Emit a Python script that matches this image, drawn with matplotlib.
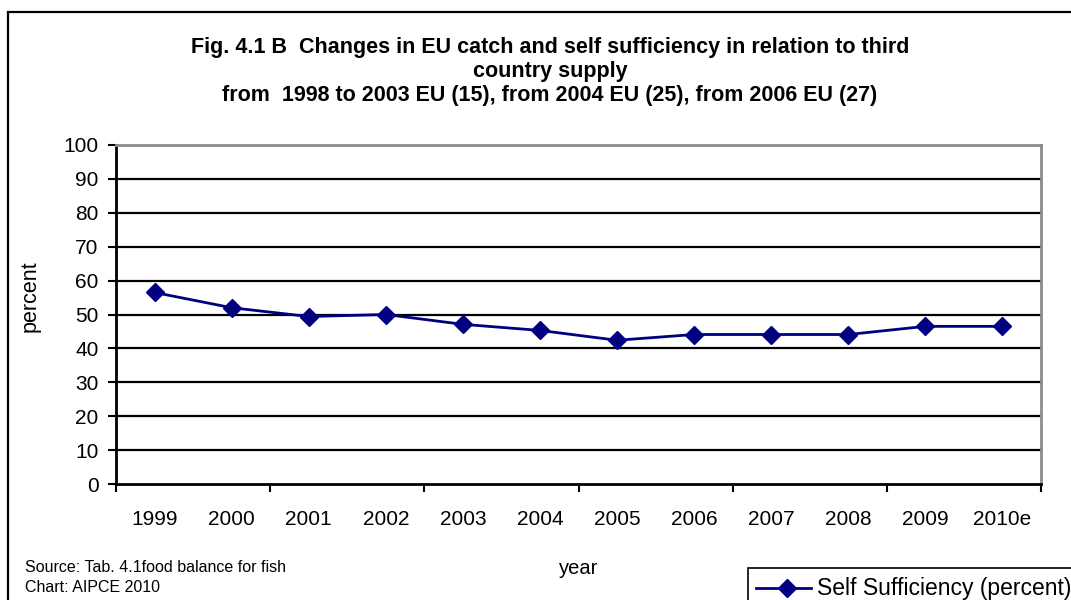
import matplotlib
matplotlib.use("Agg")
import matplotlib.pyplot as plt
from matplotlib.patches import Rectangle
from matplotlib.lines import Line2D

plt.rcParams['font.family'] = ['Liberation Sans', 'DejaVu Sans']

years = ["1999", "2000", "2001", "2002", "2003", "2004",
         "2005", "2006", "2007", "2008", "2009", "2010e"]
self_sufficiency = [56.5, 52.0, 49.4, 50.0, 47.1, 45.3,
                    42.4, 44.1, 44.1, 44.1, 46.5, 46.5]
y_ticks = [0, 10, 20, 30, 40, 50, 60, 70, 80, 90, 100]

W, H = 1071, 600
fig = plt.figure(figsize=(W / 100, H / 100), dpi=100)
fig.patch.set_facecolor("white")

# outer chart frame (runs past the right and bottom edges)
fig.patches.append(Rectangle((7.5 / W, -0.1), 1.2, 1 - 11.5 / H + 0.1,
                             transform=fig.transFigure, fill=False,
                             edgecolor="black", linewidth=1.6))

ax = fig.add_axes([116 / W, 1 - 484 / H, (1041 - 116) / W, (484 - 145) / H])
x = list(range(len(years)))
ax.plot(x, self_sufficiency, color="#000080", linewidth=2.0,
        marker="D", markersize=9, markerfacecolor="#000080",
        markeredgecolor="#000080", zorder=5)

ax.set_xlim(-0.5, len(years) - 0.5)
ax.set_ylim(0, 100)
ax.set_yticks(y_ticks)
ax.set_yticklabels([str(v) for v in y_ticks], fontsize=15)
for v in y_ticks[1:]:
    ax.axhline(v, color="black", linewidth=1.6, zorder=1)

# category boundary ticks every two years, labels at category centres
ax.set_xticks([i - 0.5 for i in range(0, len(years) + 1, 2)])
ax.set_xticklabels([])
ax.set_xticks(x, minor=True)
ax.set_xticklabels(years, minor=True, fontsize=15)
ax.tick_params(axis="x", which="major", direction="out", length=6,
               width=1.5, color="black")
ax.tick_params(axis="x", which="minor", length=0, pad=19)
ax.tick_params(axis="y", direction="out", length=5.5, width=1.5,
               pad=7, color="black")

for side in ("left", "bottom"):
    ax.spines[side].set_color("black")
    ax.spines[side].set_linewidth(2.0)
for side in ("top", "right"):
    ax.spines[side].set_color("#8c8c8c")
    ax.spines[side].set_linewidth(2.0)

fig.text(30 / W, 1 - 296 / H, "percent", rotation=90, ha="center",
         va="center", fontsize=15.5)

title_lines = ["Fig. 4.1 B  Changes in EU catch and self sufficiency in relation to third",
               "country supply",
               "from  1998 to 2003 EU (15), from 2004 EU (25), from 2006 EU (27)"]
for i, line in enumerate(title_lines):
    fig.text(550 / W, 1 - (47 + 24 * i) / H, line, ha="center", va="center",
             fontsize=15.5, fontweight="bold")

fig.text(579 / W, 1 - 568 / H, "year", ha="center", va="center", fontsize=14.5)
fig.text(25 / W, 1 - 567 / H, "Source: Tab. 4.1food balance for fish",
         ha="left", va="center", fontsize=11.5)
fig.text(25 / W, 1 - 588 / H, "Chart: AIPCE 2010",
         ha="left", va="center", fontsize=11.5)

# legend box (clipped at the figure edge)
fig.patches.append(Rectangle((748 / W, -0.1), 1.0, (600 - 567.5) / H + 0.1,
                             transform=fig.transFigure, fill=True,
                             facecolor="white", edgecolor="black",
                             linewidth=1.2, zorder=3))
fig.lines.append(Line2D([756 / W, 811 / W], [1 - 588 / H, 1 - 588 / H],
                        transform=fig.transFigure, color="#000080",
                        linewidth=2.0, marker=None, zorder=4))
fig.lines.append(Line2D([787 / W], [1 - 588 / H], transform=fig.transFigure,
                        color="#000080", marker="D", markersize=9,
                        linestyle="none", zorder=5))
fig.text(817 / W, 1 - 588 / H, "Self Sufficiency (percent)", ha="left",
         va="center", fontsize=16.5, zorder=6)

fig.savefig("out.png", dpi=100)
